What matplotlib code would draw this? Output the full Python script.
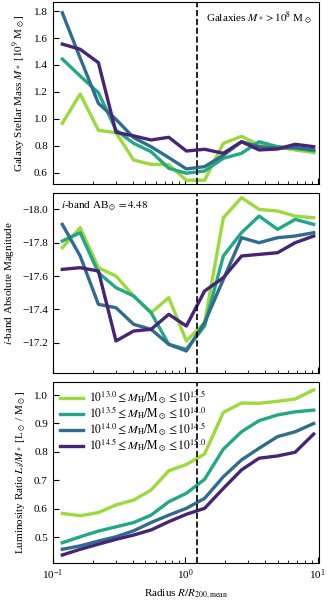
import numpy as np
import matplotlib
matplotlib.use('Agg')
import matplotlib.pyplot as plt
from matplotlib.ticker import MultipleLocator

plt.rcParams['font.family'] = ['Liberation Serif', 'DejaVu Serif']
plt.rcParams['mathtext.fontset'] = 'stix'
plt.rcParams['font.size'] = 8

# bin centres, R / R200,mean
radius = [0.118, 0.161, 0.221, 0.300, 0.408, 0.552, 0.751, 1.02,
          1.40, 1.94, 2.66, 3.61, 4.98, 6.76, 9.33]
r_split = 1.23

halo_bins = [(13.0, 13.5), (13.5, 14.0), (14.0, 14.5), (14.5, 15.0)]

# galaxy stellar mass [1e9 Msun]
mstar_13_0 = [0.967, 1.184, 0.915, 0.897, 0.694, 0.662, 0.660, 0.544,
              0.544, 0.818, 0.870, 0.806, 0.793, 0.769, 0.749]
mstar_13_5 = [1.444, 1.318, 1.194, 0.917, 0.818, 0.756, 0.633, 0.596,
              0.613, 0.707, 0.744, 0.830, 0.793, 0.781, 0.763]
mstar_14_0 = [1.787, 1.451, 1.115, 0.996, 0.860, 0.793, 0.712, 0.628,
              0.645, 0.730, 0.830, 0.793, 0.781, 0.788, 0.769]
mstar_14_5 = [1.555, 1.516, 1.417, 0.900, 0.873, 0.843, 0.863, 0.761,
              0.774, 0.744, 0.830, 0.769, 0.776, 0.811, 0.793]

# i-band absolute magnitude
mag_13_0 = [-17.77, -17.89, -17.65, -17.60, -17.48, -17.38, -17.47, -17.21,
            -17.32, -17.95, -18.07, -18.00, -17.99, -17.96, -17.95]
mag_13_5 = [-17.81, -17.86, -17.62, -17.53, -17.48, -17.38, -17.19, -17.16,
            -17.30, -17.72, -17.86, -17.96, -17.88, -17.94, -17.91]
mag_14_0 = [-17.91, -17.72, -17.43, -17.41, -17.31, -17.28, -17.19, -17.15,
            -17.32, -17.58, -17.83, -17.80, -17.83, -17.84, -17.86]
mag_14_5 = [-17.64, -17.65, -17.63, -17.21, -17.27, -17.28, -17.37, -17.30,
            -17.51, -17.59, -17.72, -17.73, -17.74, -17.80, -17.84]

# luminosity ratio L_i / M_*
lum_13_0 = [0.584, 0.576, 0.587, 0.614, 0.631, 0.666, 0.734, 0.756,
            0.793, 0.939, 0.972, 0.971, 0.978, 0.986, 1.018]
lum_13_5 = [0.481, 0.502, 0.522, 0.537, 0.552, 0.578, 0.625, 0.655,
            0.704, 0.810, 0.871, 0.910, 0.930, 0.941, 0.947]
lum_14_0 = [0.458, 0.470, 0.487, 0.502, 0.523, 0.552, 0.578, 0.602,
            0.637, 0.713, 0.772, 0.813, 0.854, 0.871, 0.900]
lum_14_5 = [0.438, 0.458, 0.476, 0.493, 0.508, 0.526, 0.555, 0.581,
            0.602, 0.672, 0.737, 0.778, 0.786, 0.799, 0.863]

mstar = [mstar_13_0, mstar_13_5, mstar_14_0, mstar_14_5]
mags = [mag_13_0, mag_13_5, mag_14_0, mag_14_5]
lums = [lum_13_0, lum_13_5, lum_14_0, lum_14_5]

colours = plt.cm.viridis([0.85, 0.6, 0.35, 0.1])

fig = plt.figure(figsize=(3.32, 6.0), dpi=100)
left, width = 0.159, 0.803
ax1 = fig.add_axes([left, 0.6933, width, 0.3033])
ax2 = fig.add_axes([left, 0.3778, width, 0.3010], sharex=ax1)
ax3 = fig.add_axes([left, 0.0622, width, 0.3017], sharex=ax1)

for i, (lo, hi) in enumerate(halo_bins):
    lab = r'$10^{%.1f} \leq M_{\rm H}/{\rm M}_\odot \leq 10^{%.1f}$' % (lo, hi)
    ax1.plot(radius, mstar[i], color=colours[i], lw=2.4)
    ax2.plot(radius, mags[i], color=colours[i], lw=2.4)
    ax3.plot(radius, lums[i], color=colours[i], lw=2.4, label=lab)

for ax in (ax1, ax2, ax3):
    ax.axvline(r_split, color='k', ls='--', lw=1.2)
    ax.set_xscale('log')
    ax.tick_params(which='both', direction='in')
    ax.tick_params(which='major', length=4)
    ax.tick_params(which='minor', length=2)
ax1.set_xlim(0.1, 10.3)

ax1.set_ylim(0.516, 1.867)
ax1.yaxis.set_major_locator(MultipleLocator(0.2))
ax1.set_ylabel(r'Galaxy Stellar Mass $M_*$ [$10^9$ M$_\odot$]')
ax1.text(0.97, 0.96, r'Galaxies $M_* > 10^8$ M$_\odot$', transform=ax1.transAxes,
         ha='right', va='top')
ax1.tick_params(labelbottom=False)

ax2.set_ylim(-17.016, -18.1)
ax2.yaxis.set_major_locator(MultipleLocator(0.2))
ax2.set_ylabel(r'$i$-band Absolute Magnitude')
ax2.text(0.03, 0.96, r'$i$-band AB$_\odot = 4.48$', transform=ax2.transAxes,
         ha='left', va='top')
ax2.tick_params(labelbottom=False)

ax3.set_ylim(0.411, 1.047)
ax3.yaxis.set_major_locator(MultipleLocator(0.1))
ax3.set_ylabel(r'Luminosity Ratio $L_i/M_*$ [L$_\odot$ / M$_\odot$]')
ax3.set_xlabel(r'Radius $R/R_{\rm 200, mean}$')
ax3.legend(loc='upper left', frameon=False, fontsize=8.5, handlelength=2.0,
           handletextpad=0.5, borderaxespad=0.2, labelspacing=-0.1)

fig.savefig('out.png', dpi=100)
